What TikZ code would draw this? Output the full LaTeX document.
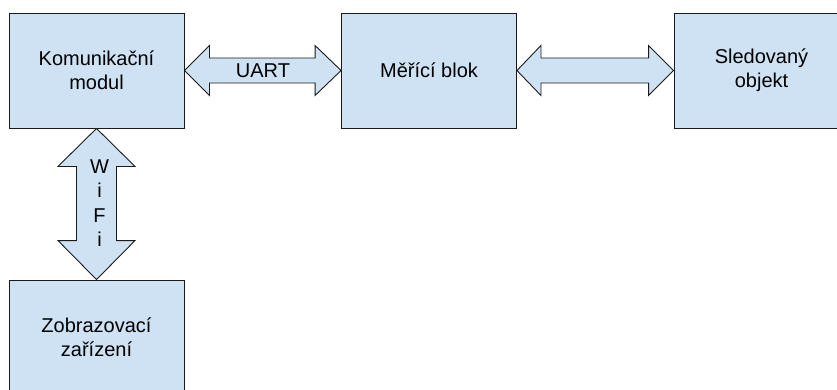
\documentclass[tikz,border=0pt]{standalone}
\usepackage{fontspec}
\setmainfont{Liberation Sans}
\usetikzlibrary{calc}
\definecolor{boxfill}{HTML}{CFE2F3}
\definecolor{boxline}{HTML}{1A1A1A}
\tikzset{
  blockbox/.style={draw=boxline, fill=boxfill, line width=0.9pt, minimum width=175pt, minimum height=115pt, inner sep=0pt, align=center, font=\fontsize{20}{24}\selectfont},
  blockarrow/.style={draw=boxline, fill=boxfill, line width=0.9pt, line join=miter},
  lbl/.style={font=\fontsize{20}{24}\selectfont, align=center, inner sep=0pt}
}
\begin{document}
\begin{tikzpicture}[x=1pt,y=-1pt]
\useasboundingbox (0,0) rectangle (837,389);
\clip (0,0) rectangle (837,389);
\node[blockbox] (km) at (96.5,70.5) {Komunikační\\modul};
\node[blockbox] (mb) at (429,70.5) {Měřící blok};
\node[blockbox] (so) at (761.5,70.5) {Sledovaný\\objekt};
\node[blockbox] (zz) at (96.5,337.5) {Zobrazovací\\zařízení};
% UART arrow
\draw[blockarrow] (km.east) -- ++(25,-25) -- ++(0,12.5) -- ($(mb.west)+(-26,-12.5)$) -- ++(0,-12.5) -- (mb.west) -- ++(-26,25) -- ++(0,-12.5) -- ($(km.east)+(25,12.5)$) -- ++(0,12.5) -- cycle;
\node[lbl] (uart) at (263,71) {UART};
% second arrow
\draw[blockarrow] (mb.east) -- ++(24,-25) -- ++(0,12.5) -- ($(so.west)+(-25,-12.5)$) -- ++(0,-12.5) -- (so.west) -- ++(-25,25) -- ++(0,-12.5) -- ($(mb.east)+(24,12.5)$) -- ++(0,12.5) -- cycle;
% WiFi arrow
\coordinate (wt) at (km.south);
\coordinate (wb) at (zz.north);
\draw[blockarrow] (wt) -- ++(38.5,38) -- ++(-18.5,0) -- ($(wb)+(20,-39)$) -- ++(18.5,0) -- (wb) -- ++(-38.5,-39) -- ++(18.5,0) -- ($(wt)+(-20,38)$) -- ++(-18.5,0) -- cycle;
\node[lbl, font=\fontsize{20}{24.5}\selectfont] (wifi) at (99.5,203) {W\\i\\F\\i};
\end{tikzpicture}
\end{document}
